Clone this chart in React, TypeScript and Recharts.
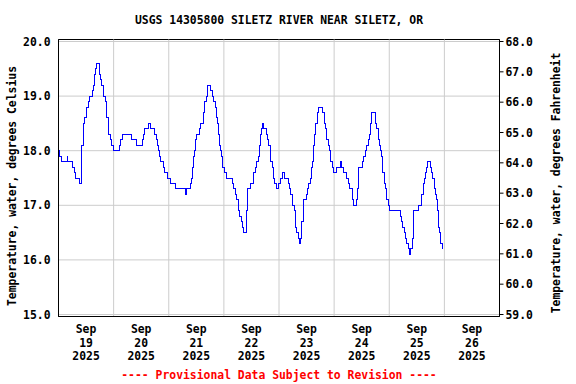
import React from 'react';
import { LineChart, Line, XAxis, YAxis, CartesianGrid, ReferenceLine, ReferenceArea } from 'recharts';

// hours since Sep 19 2025 00:00
const hours = [
  0, 0.65, 1.2, 3.8, 4.1, 6.2, 7.0, 7.6, 9.1, 9.8, 10.2, 10.8, 11.4, 12.0, 12.4, 13.0, 13.7, 14.6, 15.2, 15.8,
  16.0, 16.6, 17.8, 18.4, 18.9, 19.5, 20.4, 21.0, 21.6, 22.7, 23.2, 23.9, 26.5, 27.1, 27.7, 31.7, 34.0, 36.4, 37.0, 37.5,
  39.0, 40.1, 41.6, 42.5, 43.0, 43.6, 43.9, 44.5, 45.7, 46.2, 47.4, 48.6, 50.9, 55.2, 55.6, 57.3, 57.9, 58.3, 58.7, 59.3,
  59.7, 60.2, 61.3, 61.9, 63.1, 63.7, 64.3, 64.8, 66.3, 66.9, 67.4, 68.3, 68.6, 69.2, 69.8, 70.1, 70.6, 70.9, 71.5, 72.4,
  73.2, 75.9, 76.4, 77.0, 77.6, 78.2, 78.5, 79.0, 79.6, 79.9, 80.5, 81.7, 81.9, 82.3, 82.5, 83.4, 85.1, 85.7, 86.3, 86.9,
  87.5, 88.0, 88.3, 88.9, 89.2, 90.4, 90.9, 91.5, 92.1, 92.4, 93.0, 93.6, 94.2, 94.7, 95.6, 96.8, 97.4, 98.2, 100.0, 100.5,
  101.1, 102.0, 102.6, 103.1, 103.4, 103.7, 104.3, 104.9, 105.2, 105.8, 106.0, 106.6, 107.8, 108.4, 109.0, 109.5, 110.1, 110.4, 111.0, 111.6,
  112.1, 112.7, 113.3, 115.1, 115.6, 116.2, 116.8, 117.4, 117.9, 118.5, 119.1, 119.7, 120.9, 122.6, 123.2, 124.1, 125.5, 126.1, 126.7, 127.8,
  128.4, 129.6, 130.1, 130.7, 132.5, 133.0, 133.6, 134.2, 135.1, 135.4, 135.7, 136.2, 138.0, 138.6, 139.2, 139.7, 140.3, 140.6, 140.9, 141.2,
  141.8, 142.3, 142.9, 143.8, 144.1, 148.7, 149.3, 149.6, 150.5, 151.1, 151.6, 152.2, 152.7, 153.1, 154.2, 154.5, 156.9, 158.0, 158.9, 159.5,
  159.8, 160.4, 160.6, 161.8, 162.4, 162.9, 163.5, 164.1, 164.7, 165.0, 165.3, 165.6, 165.9, 166.2, 167.1,
];

const tempC = [
  18.0, 17.9, 17.8, 17.9, 17.8, 17.7, 17.6, 17.5, 17.4, 17.6, 18.1, 18.5, 18.6, 18.7, 18.8, 18.9, 19.0, 19.1, 19.2, 19.4,
  19.5, 19.6, 19.4, 19.3, 19.2, 19.0, 18.9, 18.6, 18.3, 18.2, 18.1, 18.0, 18.1, 18.2, 18.3, 18.2, 18.1, 18.2, 18.3, 18.4,
  18.5, 18.4, 18.3, 18.2, 18.1, 18.0, 17.9, 17.8, 17.7, 17.6, 17.5, 17.4, 17.3, 17.2, 17.3, 17.4, 17.5, 17.7, 17.9, 18.0,
  18.2, 18.3, 18.4, 18.5, 18.7, 18.9, 19.0, 19.2, 19.1, 19.0, 18.9, 18.8, 18.6, 18.5, 18.3, 18.1, 18.0, 17.9, 17.7, 17.6,
  17.5, 17.4, 17.3, 17.2, 17.1, 17.0, 16.9, 16.8, 16.7, 16.6, 16.5, 16.6, 16.9, 17.1, 17.3, 17.4, 17.6, 17.7, 17.8, 17.9,
  18.1, 18.3, 18.4, 18.5, 18.4, 18.3, 18.2, 18.1, 17.9, 17.8, 17.7, 17.5, 17.4, 17.3, 17.4, 17.5, 17.6, 17.5, 17.4, 17.3,
  17.2, 17.0, 16.9, 16.8, 16.6, 16.5, 16.4, 16.3, 16.4, 16.6, 16.7, 17.1, 17.2, 17.3, 17.4, 17.5, 17.7, 17.8, 18.1, 18.3,
  18.5, 18.7, 18.8, 18.7, 18.5, 18.4, 18.2, 18.1, 18.0, 17.8, 17.7, 17.6, 17.7, 17.8, 17.7, 17.6, 17.5, 17.4, 17.3, 17.1,
  17.0, 17.1, 17.3, 17.7, 17.8, 17.9, 18.0, 18.1, 18.2, 18.3, 18.5, 18.7, 18.5, 18.4, 18.2, 18.1, 18.0, 17.9, 17.8, 17.6,
  17.4, 17.3, 17.1, 17.0, 16.9, 16.8, 16.7, 16.6, 16.5, 16.4, 16.3, 16.2, 16.1, 16.2, 16.4, 16.9, 17.0, 17.2, 17.4, 17.5,
  17.6, 17.7, 17.8, 17.7, 17.6, 17.5, 17.3, 17.2, 17.1, 16.9, 16.8, 16.6, 16.5, 16.3, 16.2,
];

const dayLabels = ['19', '20', '21', '22', '23', '24', '25', '26'];
const tickHours = [12, 36, 60, 84, 108, 132, 156, 180];
const midnightHours = [24, 48, 72, 96, 120, 144, 168];
const celsiusTicks = [15, 16, 17, 18, 19, 20];
const fahrenheitTicks = [59, 60, 61, 62, 63, 64, 65, 66, 67, 68];

const title = 'USGS 14305800 SILETZ RIVER NEAR SILETZ, OR';
const footer = '---- Provisional Data Subject to Revision ----';
const leftTitle = 'Temperature, water, degrees Celsius';
const rightTitle = 'Temperature, water, degrees Fahrenheit';

const data = hours.map((h, i) => ({ h, c: tempC[i] }));

const PAD = 2 / 54.6;
const cMin = 15 - PAD;
const cMax = 20 + PAD;
const fMin = cMin * 1.8 + 32;
const fMax = cMax * 1.8 + 32;

const FONT = '"DejaVu Sans Mono", monospace';
const FS = 11.4;
const tickStyle = { fontFamily: FONT, fontSize: FS, fontWeight: 'bold', fill: '#000' };

const XTick = (props: any) => {
  const { x, y, payload } = props;
  const idx = tickHours.indexOf(payload.value);
  const day = idx >= 0 ? dayLabels[idx] : '';
  return (
    <g>
      <text x={x} y={y} textAnchor="middle" fontFamily={FONT} fontSize={FS} fontWeight="bold" fill="#000">
        <tspan x={x} dy={16.5}>Sep</tspan>
        <tspan x={x} dy={13.5}>{day}</tspan>
        <tspan x={x} dy={13.5}>2025</tspan>
      </text>
    </g>
  );
};

export default function App() {
  return (
    <div style={{ position: 'absolute', left: 0, top: 0, width: 576, height: 384, background: '#fff' }}>
      <LineChart width={576} height={384} data={data} margin={{ top: 39.5, right: 0.5, bottom: 0.5, left: 0.5 }}>
        <CartesianGrid yAxisId="c" vertical={false} stroke="#cccccc" strokeWidth={1} />
        <XAxis
          dataKey="h"
          type="number"
          domain={[0, 192]}
          ticks={tickHours}
          interval={0}
          height={67}
          tickLine={false}
          tickSize={0}
          tickMargin={0}
          axisLine={{ stroke: '#000' }}
          tick={<XTick />}
          allowDataOverflow
        />
        <YAxis
          yAxisId="c"
          orientation="left"
          type="number"
          domain={[cMin, cMax]}
          ticks={celsiusTicks}
          interval={0}
          width={58}
          tickLine={false}
          tickSize={0}
          tickMargin={8}
          axisLine={{ stroke: '#000' }}
          tick={tickStyle}
          tickFormatter={(v: number) => v.toFixed(1)}
          allowDataOverflow
        />
        <YAxis
          yAxisId="f"
          orientation="right"
          type="number"
          domain={[fMin, fMax]}
          ticks={fahrenheitTicks}
          interval={0}
          width={76}
          tickLine={{ stroke: '#000' }}
          tickSize={4}
          tickMargin={2}
          axisLine={{ stroke: '#000' }}
          tick={tickStyle}
          tickFormatter={(v: number) => v.toFixed(1)}
          allowDataOverflow
        />
        {midnightHours.map((m) => (
          <ReferenceLine key={m} x={m} yAxisId="c" stroke="#cccccc" strokeWidth={1} />
        ))}
        <ReferenceArea x1={0} x2={192} y1={cMin} y2={cMax} yAxisId="c" fill="none" fillOpacity={0} stroke="#000" strokeWidth={1} />
        <Line
          yAxisId="c"
          type="stepAfter"
          dataKey="c"
          stroke="#0000ff"
          strokeWidth={1}
          dot={false}
          isAnimationActive={false}
          shapeRendering="crispEdges"
        />
      </LineChart>
      <svg width={576} height={384} style={{ position: 'absolute', left: 0, top: 0, pointerEvents: 'none' }}>
        <text x={279} y={24} textAnchor="middle" fontFamily={FONT} fontSize={FS} fontWeight="bold" fill="#000">{title}</text>
        <text x={279} y={379} textAnchor="middle" fontFamily={FONT} fontSize={FS} fontWeight="bold" fill="#ff0000">{footer}</text>
        <text x={16} y={186} textAnchor="middle" transform="rotate(-90 16 186)" fontFamily={FONT} fontSize={FS} fontWeight="bold" fill="#000">{leftTitle}</text>
        <text x={560} y={183} textAnchor="middle" transform="rotate(-90 560 183)" fontFamily={FONT} fontSize={FS} fontWeight="bold" fill="#000">{rightTitle}</text>
      </svg>
    </div>
  );
}
